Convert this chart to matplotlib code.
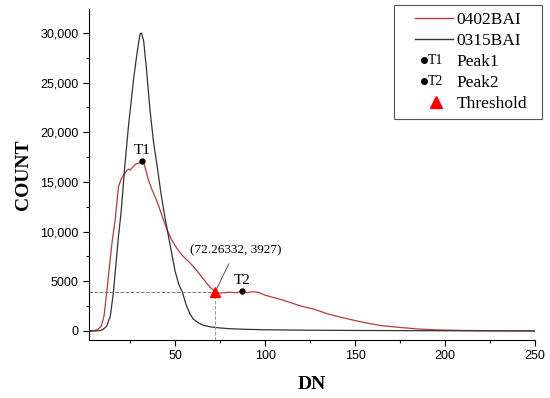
import matplotlib.pyplot as plt
from matplotlib.lines import Line2D
from matplotlib.text import Text
from matplotlib.legend_handler import HandlerBase

# 0315BAI histogram (black)
dn_0315 = [2, 6, 8, 10, 12, 14, 15.7, 17, 18.5, 20, 22, 24, 25.5, 27, 29, 30.5, 31.3, 32.5, 34, 36, 38,
           40, 42, 44, 46, 48, 50, 52, 54, 56, 58, 60, 63, 66, 70, 75, 80, 90, 100, 120, 150, 200, 250]
cnt_0315 = [0, 0, 30, 150, 500, 1500, 3900, 6500, 9500, 12000, 16500, 20500, 23000, 25500, 28200, 29900,
            30000, 29200, 26500, 22300, 19000, 16600, 14000, 11800, 9800, 7900, 6000, 4700, 3900, 2700, 1800,
            1200, 800, 550, 400, 300, 230, 160, 120, 80, 50, 20, 0]

# 0402BAI histogram (red)
dn_0402 = [2, 5, 7, 9, 10.5, 12, 13.5, 15, 16.7, 18.5, 20, 22, 24, 25, 26.5, 28, 30, 31.5, 33, 35, 37,
           40, 43.5, 45.5, 48, 51, 54, 58, 62, 65, 68, 70, 72.26, 74, 77, 80, 84, 87, 90, 93, 96, 100,
           105, 110, 115, 120, 127, 135, 145, 155, 164, 175, 185, 195, 210, 230, 250]
cnt_0402 = [0, 30, 150, 500, 1500, 3900, 6500, 9000, 11200, 14500, 15300, 15900, 16300, 16200, 16500,
            16800, 16900, 17100, 16700, 15300, 14300, 13000, 11200, 10200, 9200, 8300, 7600, 6900, 6100,
            5400, 4700, 4300, 3927, 3800, 3850, 3900, 3850, 4000, 3850, 3950, 3900, 3600, 3350, 3100, 2800,
            2500, 2200, 1700, 1250, 850, 550, 350, 200, 110, 50, 20, 5]

peak1 = (31.5, 17100)
peak2 = (87, 4000)
threshold = (72.26332, 3927)

y_ticks = [0, 5000, 10000, 15000, 20000, 25000, 30000]
y_tick_labels = ["0", "5000", "10,000", "15,000", "20,000", "25,000", "30,000"]
x_ticks = [50, 100, 150, 200, 250]

serif = "Liberation Serif"


class ShortLine(HandlerBase):
    # line sample that starts part way into the handle box
    def create_artists(self, legend, orig_handle, xdescent, ydescent, width, height, fontsize, trans):
        y = height / 2 - ydescent
        ln = Line2D([-xdescent + width * 0.26, -xdescent + width], [y, y],
                    color=orig_handle.get_color(), lw=1.0, transform=trans)
        return [ln]


class DotTag(HandlerBase):
    def __init__(self, tag):
        super().__init__()
        self.tag = tag

    def create_artists(self, legend, orig_handle, xdescent, ydescent, width, height, fontsize, trans):
        y = height / 2 - ydescent
        dot = Line2D([-xdescent + width * 0.44], [y], marker="o", color="black",
                     markersize=4, linestyle="none", transform=trans)
        txt = Text(-xdescent + width * 0.52, y, self.tag, va="center", ha="left",
                   fontsize=fontsize * 0.8, family=serif, transform=trans)
        return [dot, txt]


class Tri(HandlerBase):
    def create_artists(self, legend, orig_handle, xdescent, ydescent, width, height, fontsize, trans):
        y = height / 2 - ydescent
        m = Line2D([-xdescent + width * 0.67], [y], marker="^", color="red",
                   markersize=8, linestyle="none", transform=trans)
        return [m]


fig = plt.figure(figsize=(5.5, 3.98), dpi=100)
ax = fig.add_axes([0.162, 0.146, 0.811, 0.831])

red = "#b83a3a"
l_red, = ax.plot(dn_0402, cnt_0402, color=red, lw=0.9, label="0402BAI")
l_blk, = ax.plot(dn_0315, cnt_0315, color="#333333", lw=0.9, label="0315BAI")

ax.set_xlim(2.2, 250)
ax.set_ylim(-900, 32400)

# threshold guide lines
ax.plot([2.2, threshold[0]], [threshold[1], threshold[1]], ls="--", color="#777777", lw=0.7)
ax.plot([threshold[0], threshold[0]], [-900, threshold[1]], ls="--", color="#999999", lw=0.7)

ax.plot(*peak1, "o", color="black", markersize=3.5)
ax.plot(*peak2, "o", color="black", markersize=3.5)
ax.plot(*threshold, "^", color="red", markersize=7)

ax.text(peak1[0], peak1[1] + 400, "T1", ha="center", va="bottom", fontsize=11, family=serif)
ax.text(peak2[0], peak2[1] + 400, "T2", ha="center", va="bottom", fontsize=11, family=serif)
ax.annotate("(72.26332, 3927)", xy=threshold, xytext=(83.5, 8150), ha="center", va="center",
            fontsize=9.5, family=serif,
            arrowprops=dict(arrowstyle="-", color="#555555", lw=0.7, shrinkA=4, shrinkB=3))

ax.spines["top"].set_visible(False)
ax.spines["right"].set_visible(False)
ax.set_xticks(x_ticks)
ax.set_xticks([25, 75, 125, 175, 225], minor=True)
ax.set_yticks(y_ticks)
ax.set_yticklabels(y_tick_labels)
ax.set_yticks([2500, 7500, 12500, 17500, 22500, 27500], minor=True)
ax.tick_params(which="major", length=4, width=0.8, labelsize=9)
ax.tick_params(which="minor", length=2.5, width=0.8)
for lab in ax.get_xticklabels() + ax.get_yticklabels():
    lab.set_family("Liberation Sans")

ax.set_xlabel("DN", fontsize=14, fontweight="bold", family=serif, labelpad=10)
ax.set_ylabel("COUNT", fontsize=14, fontweight="bold", family=serif, labelpad=6)

h_p1 = Line2D([], [], label="Peak1")
h_p2 = Line2D([], [], label="Peak2")
h_th = Line2D([], [], label="Threshold")
leg = ax.legend(handles=[l_red, l_blk, h_p1, h_p2, h_th],
                handler_map={l_red: ShortLine(), l_blk: ShortLine(), h_p1: DotTag("T1"),
                             h_p2: DotTag("T2"), h_th: Tri()},
                loc="upper right", bbox_to_anchor=(0.684, 0, 0.332, 1.012), mode="expand",
                borderaxespad=0, fancybox=False, framealpha=1,
                edgecolor="#555555", prop={"family": serif, "size": 12.5},
                labelspacing=0.28, handlelength=3.0, handletextpad=0.2, borderpad=0.4)
leg.get_frame().set_linewidth(0.8)

fig.savefig("out.png", dpi=100)
